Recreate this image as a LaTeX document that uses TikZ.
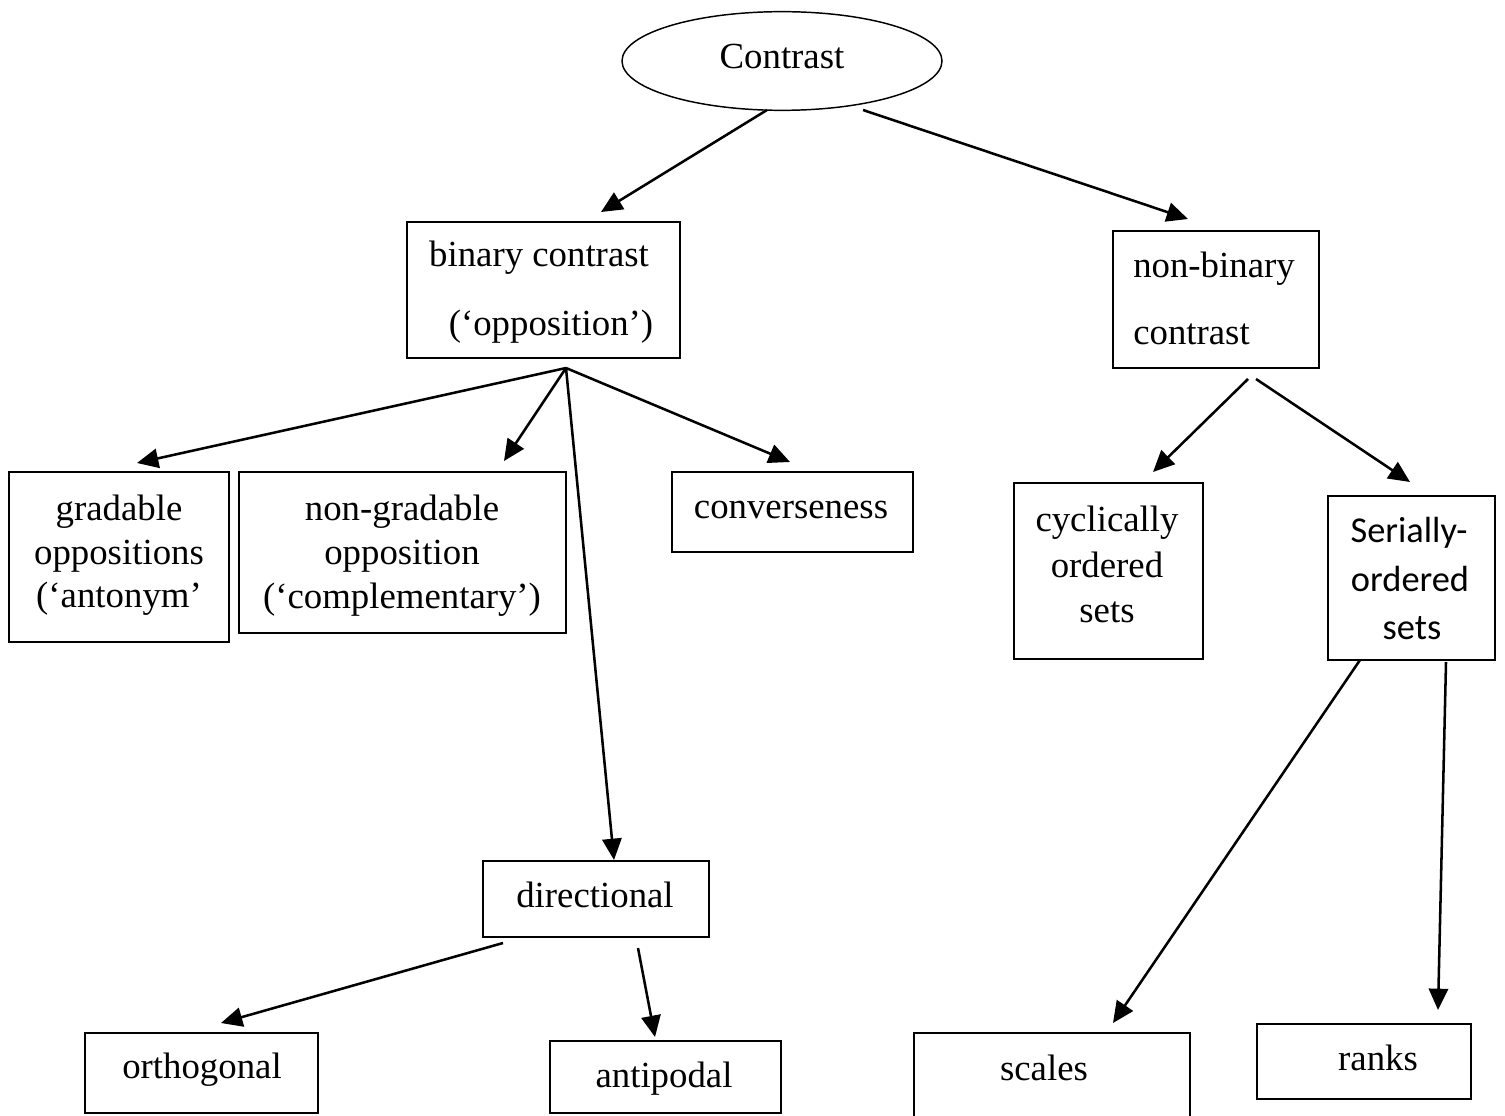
\documentclass[tikz,border=0pt]{standalone}
\usepackage{fontspec}
\setmainfont{Liberation Serif}
\newfontfamily\calib{Carlito}
\usetikzlibrary{arrows.meta,fit,shapes.geometric}
\tikzset{
  box/.style={draw, line width=1.4pt, inner sep=0pt, rectangle},
  txt/.style={inner sep=0pt, anchor=base, font=\fontsize{27.6}{33}\selectfont},
  stxt/.style={inner sep=0pt, anchor=base, font=\calib\fontsize{27.3}{33}\selectfont},
  arr/.style={line width=1.9pt, -{Triangle[length=16pt,width=14.5pt]}},
}
\begin{document}
\begin{tikzpicture}[x=0.75pt,y=-0.75pt]
\useasboundingbox (0,0) rectangle (1505,1116);
% root
\node[draw, ellipse, line width=1.1pt, minimum width=240pt, minimum height=74pt, inner sep=0pt] (root) at (782,61) {};
\node[txt] (troot) at (782,69) {Contrast};
% boxes
\node[box, fit={(407,222) (680,358)}] (bin) {};
\node[txt] (tbin1) at (539,267) {binary contrast};
\node[txt] (tbin2) at (551,335) {(‘opposition’)};
\node[box, fit={(1113,231) (1319,368)}] (nbin) {};
\node[txt, anchor=base west] (tnbin1) at (1133,277) {non-binary};
\node[txt, anchor=base west] (tnbin2) at (1133,344) {contrast};
\node[box, fit={(9,472) (229,642)}] (grad) {};
\node[txt] (tg1) at (119,520) {gradable};
\node[txt] (tg2) at (119,564) {oppositions};
\node[txt] (tg3) at (119,607) {(‘antonym’};
\node[box, fit={(239,472) (566,633)}] (ngrad) {};
\node[txt] (tng1) at (402,520) {non-gradable};
\node[txt] (tng2) at (402,564) {opposition};
\node[txt] (tng3) at (402,608) {(‘complementary’)};
\node[box, fit={(672,472) (913,552)}] (conv) {};
\node[txt] (tconv) at (791,518) {converseness};
\node[box, fit={(1014,483) (1203,659)}] (cyc) {};
\node[txt] (tc1) at (1107,531) {cyclically};
\node[txt] (tc2) at (1107,577) {ordered};
\node[txt] (tc3) at (1107,622) {sets};
\node[box, fit={(1328,496) (1495,660)}] (ser) {};
\node[stxt] (ts1) at (1409,542) {Serially-};
\node[stxt] (ts2) at (1410,591) {ordered};
\node[stxt] (ts3) at (1412,639) {sets};
\node[box, fit={(483,861) (709,937)}] (dir) {};
\node[txt] (tdir) at (595,907) {directional};
\node[box, fit={(85,1033) (318,1113)}] (orth) {};
\node[txt] (torth) at (202,1078) {orthogonal};
\node[box, fit={(550,1041) (781,1113)}] (anti) {};
\node[txt] (tanti) at (664,1087) {antipodal};
\node[box, fit={(914,1033) (1190,1130)}] (scal) {};
\node[txt] (tscal) at (1044,1080) {scales};
\node[box, fit={(1257,1024) (1471,1099)}] (rank) {};
\node[txt] (trank) at (1378,1070) {ranks};
% connector end points
\coordinate (r1) at (767,110); \coordinate (r1e) at (601,212);
\coordinate (r2) at (863,110); \coordinate (r2e) at (1188,219);
\coordinate (b0) at (566,368);
\coordinate (bg) at (137,463);
\coordinate (bn) at (504,461);
\coordinate (bc) at (790,462);
\coordinate (bd) at (614,860);
\coordinate (n1) at (1248,379); \coordinate (n1e) at (1153,472);
\coordinate (n2) at (1256,379); \coordinate (n2e) at (1410,482);
\coordinate (d1) at (503,943); \coordinate (d1e) at (221,1023);
\coordinate (d2) at (638,948); \coordinate (d2e) at (655,1037);
\coordinate (s1) at (1360,660); \coordinate (s1e) at (1113,1023);
\coordinate (s2) at (1446,662); \coordinate (s2e) at (1438,1010);
% connectors
\draw[arr] (r1) -- (r1e);
\draw[arr] (r2) -- (r2e);
\draw[arr] (b0) -- (bg);
\draw[arr] (b0) -- (bn);
\draw[arr] (b0) -- (bc);
\draw[arr] (b0) -- (bd);
\draw[arr] (n1) -- (n1e);
\draw[arr] (n2) -- (n2e);
\draw[arr] (d1) -- (d1e);
\draw[arr] (d2) -- (d2e);
\draw[arr] (s1) -- (s1e);
\draw[arr] (s2) -- (s2e);
\end{tikzpicture}
\end{document}
